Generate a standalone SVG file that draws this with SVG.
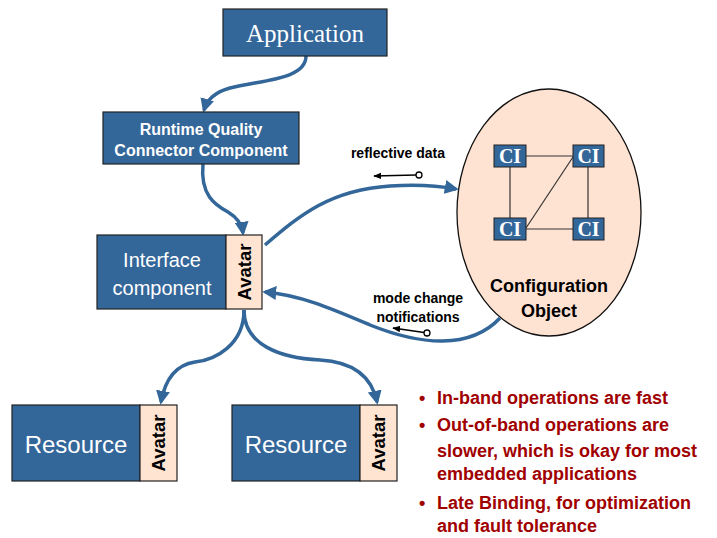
<svg xmlns="http://www.w3.org/2000/svg" width="717" height="538" viewBox="0 0 717 538">
<defs>
<style>
.box{fill:#336699;stroke:#222;stroke-width:1.2}
.av{fill:#FFE4D1;stroke:#222;stroke-width:1.2}
.wt{fill:#fff;font-family:"Liberation Sans",Arial,sans-serif;text-anchor:middle}
.avt{fill:#000;font-family:"Liberation Sans",Arial,sans-serif;font-weight:bold;font-size:18.5px;text-anchor:middle}
.con{fill:none;stroke:#336699;stroke-width:3.5}
.lab{fill:#000;font-family:"Liberation Sans",Arial,sans-serif;font-weight:bold;font-size:14px;text-anchor:middle}
.ci{fill:#336699;stroke:#222;stroke-width:1}
.cit{fill:#fff;font-family:"Liberation Serif","Times New Roman",serif;font-weight:bold;font-size:20px;text-anchor:middle}
.bul{fill:#A00000;font-family:"Liberation Sans",Arial,sans-serif;font-weight:bold;font-size:18px}
</style>
<marker id="ah" viewBox="0 0 10 10" refX="8" refY="5" markerWidth="4" markerHeight="4" orient="auto" markerUnits="strokeWidth">
<path d="M0,0 L10,5 L0,10 Z" fill="#336699"/>
</marker>
<marker id="sa" viewBox="0 0 10 10" refX="9" refY="5" markerWidth="8" markerHeight="8" orient="auto" markerUnits="userSpaceOnUse">
<path d="M0,1 L10,5 L0,9 Z" fill="#000"/>
</marker>
</defs>

<g id="config">
<ellipse cx="549" cy="212.5" rx="92" ry="123.5" fill="#FFE3D2" stroke="#111" stroke-width="1.3"/>
<text class="lab" x="549" y="292" style="font-size:18px">Configuration</text>
<text class="lab" x="549" y="317" style="font-size:18px">Object</text>
</g>

<g id="connectors">
<path class="con" d="M306,56 C306,80 260,80 230,88 C215,92 207,100 204,110" marker-end="url(#ah)"/>
<path class="con" d="M203,164 C200,195 215,205 228,212 C238,218 242,225 243,233" marker-end="url(#ah)"/>
<path class="con" d="M265,245 C300,215 330,190 390,186 C420,184 440,186 456,189" marker-end="url(#ah)"/>
<path class="con" d="M500,318 C470,350 420,345 370,325 C330,308 300,295 265,292" marker-end="url(#ah)"/>
<path class="con" d="M244,310 C244,345 215,360 195,362 C175,365 165,380 161,402" marker-end="url(#ah)"/>
<path class="con" d="M244,310 C244,345 280,358 320,360 C355,362 372,378 377,402" marker-end="url(#ah)"/>
<g id="ci-links" stroke="#333" stroke-width="1.2" fill="none">
<line x1="526" y1="156" x2="573" y2="156"/>
<line x1="510" y1="167" x2="510" y2="218"/>
<line x1="588" y1="167" x2="588" y2="218"/>
<line x1="526" y1="229" x2="573" y2="229"/>
<line x1="526" y1="228" x2="573" y2="157"/>
</g>
<g id="small-arrows" stroke="#000" stroke-width="1.3" fill="#fff">
<line x1="416" y1="175" x2="374" y2="176" marker-end="url(#sa)"/>
<circle cx="419" cy="175" r="3"/>
<line x1="424" y1="332.5" x2="393" y2="328" marker-end="url(#sa)"/>
<circle cx="427" cy="333" r="3"/>
</g>
</g>

<g id="application">
<rect class="box" x="223" y="9" width="164" height="47"/>
<text class="wt" x="305" y="42" style="font-family:'Liberation Serif','Times New Roman',serif;font-size:25px">Application</text>
</g>

<g id="rqc">
<rect class="box" x="103" y="112" width="196" height="52"/>
<text class="wt" x="201" y="135" style="font-weight:bold;font-size:16px">Runtime Quality</text>
<text class="wt" x="201" y="156" style="font-weight:bold;font-size:16px">Connector Component</text>
</g>

<g id="interface">
<rect class="box" x="97" y="235" width="129" height="74"/>
<rect class="av" x="226" y="235" width="36" height="74"/>
<text class="wt" x="162" y="267" style="font-size:20px">Interface</text>
<text class="wt" x="162" y="295" style="font-size:20px">component</text>
<text class="avt" transform="translate(250.5,272) rotate(-90)">Avatar</text>
</g>

<g id="resource1">
<rect class="box" x="12" y="405" width="128" height="76"/>
<rect class="av" x="140" y="405" width="37" height="76"/>
<text class="wt" x="76" y="453" style="font-size:24px">Resource</text>
<text class="avt" transform="translate(165,443) rotate(-90)">Avatar</text>
</g>

<g id="resource2">
<rect class="box" x="232" y="405" width="128" height="76"/>
<rect class="av" x="360" y="405" width="37" height="76"/>
<text class="wt" x="296" y="453" style="font-size:24px">Resource</text>
<text class="avt" transform="translate(385,443) rotate(-90)">Avatar</text>
</g>

<g id="ci1"><rect class="ci" x="494" y="145" width="32" height="22"/><text class="cit" x="510" y="163">CI</text></g>
<g id="ci2"><rect class="ci" x="573" y="145" width="31" height="22"/><text class="cit" x="588.5" y="163">CI</text></g>
<g id="ci3"><rect class="ci" x="494" y="218" width="32" height="22"/><text class="cit" x="510" y="236">CI</text></g>
<g id="ci4"><rect class="ci" x="573" y="218" width="31" height="22"/><text class="cit" x="588.5" y="236">CI</text></g>

<g id="labels">
<text class="lab" x="398" y="158">reflective data</text>
<text class="lab" x="418" y="303">mode change</text>
<text class="lab" x="418" y="322">notifications</text>
</g>

<g id="bullets">
<text class="bul" x="419" y="404">•</text>
<text class="bul" x="437" y="404">In-band operations are fast</text>
<text class="bul" x="419" y="431">•</text>
<text class="bul" x="437" y="431">Out-of-band operations are</text>
<text class="bul" x="437" y="457">slower, which is okay for most</text>
<text class="bul" x="437" y="480">embedded applications</text>
<text class="bul" x="419" y="509">•</text>
<text class="bul" x="437" y="509">Late Binding, for optimization</text>
<text class="bul" x="437" y="532">and fault tolerance</text>
</g>
</svg>
